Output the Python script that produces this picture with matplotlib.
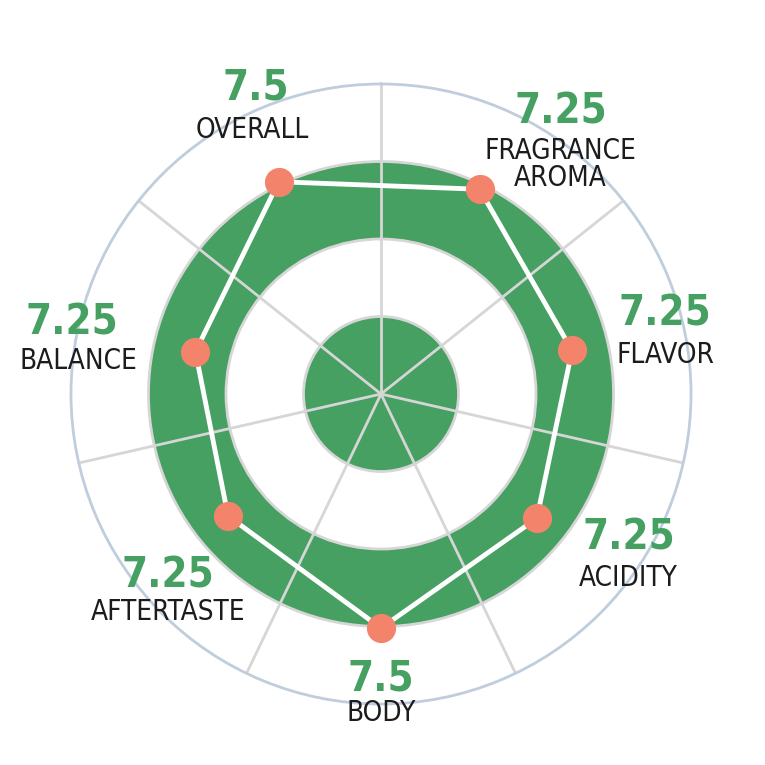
#!/usr/bin/env python
import numpy as np
import matplotlib
matplotlib.use("Agg")
import matplotlib.pyplot as plt

plt.rcParams['font.family'] = ['DejaVu Sans']
plt.rcParams['font.stretch'] = 'condensed'

# cupping attributes, clockwise from top-right
categories = ['FRAGRANCE\nAROMA', 'FLAVOR', 'ACIDITY', 'BODY', 'AFTERTASTE', 'BALANCE', 'OVERALL']
score_text = ['7.25', '7.25', '7.25', '7.5', '7.25', '7.25', '7.5']
# where the dots actually sit on the 0-10 radial scale
plotted = [7.33, 6.32, 6.43, 7.55, 6.31, 6.14, 7.6]

green = '#45a062'
dot = '#f3836a'

# text offsets (pixels) from the outer circle at each category angle
label_off = [(45, -50), (-18, -30), (5, 9), (0, -9), (29, -25), (0, -36), (6, -15)]
value_off = [(45, 3), (-18, 12), (5, 50), (0, 26), (29, 12), (-7, 3), (9, 27)]

n = len(categories)
step = 2 * np.pi / n
theta = np.arange(n) * step + step / 2
spokes = np.arange(n) * step

fig = plt.figure(figsize=(7.65, 7.65), dpi=100)
ax = fig.add_axes([0.0928, 0.0797, 0.8105, 0.8105], projection='polar')
ax.set_theta_zero_location('N')
ax.set_theta_direction(-1)
ax.set_ylim(0, 10)

# bands
full = np.linspace(0, 2 * np.pi, 400)
ax.fill_between(full, 0, 2.5, color=green, lw=0, zorder=1)
ax.fill_between(full, 5, 7.5, color=green, lw=0, zorder=1)

ax.set_xticks(spokes)
ax.set_xticklabels([])
ax.set_yticks([2.5, 5, 7.5])
ax.set_yticklabels([])
ax.grid(True, color='#d6d6d6', lw=2)
ax.set_axisbelow('line')
ax.spines['polar'].set_color('#bfcddc')
ax.spines['polar'].set_linewidth(2)
ax.tick_params(length=0)

tc = np.append(theta, theta[0])
rc = np.append(plotted, plotted[0])
ax.plot(tc, rc, color='white', lw=3.5, zorder=3)
ax.plot(theta, plotted, 'o', ms=21, color=dot, mec='none', zorder=4)

for i in range(n):
    ax.annotate(categories[i], xy=(theta[i], 10), xytext=label_off[i],
                textcoords='offset pixels', ha='center', va='center',
                fontsize=20, color='#1c1c1c', linespacing=0.95,
                fontstretch='condensed', annotation_clip=False)
    ax.annotate(score_text[i], xy=(theta[i], 10), xytext=value_off[i],
                textcoords='offset pixels', ha='center', va='center',
                fontsize=30, fontweight='bold', color=green,
                fontstretch='condensed', annotation_clip=False)

plt.savefig('out.png', dpi=100)
